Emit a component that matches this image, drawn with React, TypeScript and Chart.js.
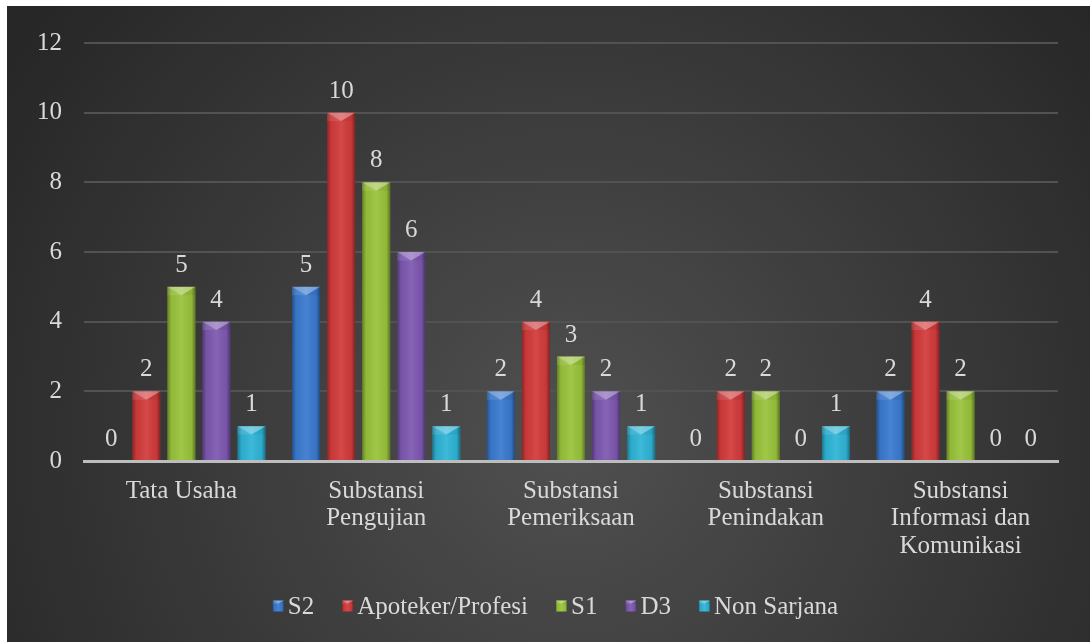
import React, { useEffect, useRef } from "react";
import { Chart, registerables } from "chart.js";

Chart.register(...registerables);

const categories: string[][] = [
  ["Tata Usaha"],
  ["Substansi", "Pengujian"],
  ["Substansi", "Pemeriksaan"],
  ["Substansi", "Penindakan"],
  ["Substansi", "Informasi dan", "Komunikasi"],
];
const seriesNames = ["S2", "Apoteker/Profesi", "S1", "D3", "Non Sarjana"];
const s2Values = [0, 5, 2, 0, 2];
const apotekerValues = [2, 10, 4, 2, 4];
const s1Values = [5, 8, 3, 2, 2];
const d3Values = [4, 6, 2, 0, 0];
const nonSarjanaValues = [1, 1, 1, 1, 0];
const seriesColors = ["#3a7acf", "#d23b3b", "#99c33b", "#7d58b0", "#2fb4d6"];
const yMin = 0;
const yMax = 12;
const yStep = 2;

const FONT = "'Liberation Serif', 'Times New Roman', serif";
const FONT_SIZE = 25;
const TEXT = "#d9d9d9";

function drawBevelBox(ctx: CanvasRenderingContext2D, l: number, top: number, r: number, bottom: number, color: string) {
  const w = r - l;
  const h = bottom - top;
  if (h <= 0.5 || w <= 0) return;
  ctx.save();
  ctx.fillStyle = color;
  ctx.fillRect(l, top, w, h);
  const g = ctx.createLinearGradient(l, 0, r, 0);
  g.addColorStop(0, "rgba(0,0,0,0.35)");
  g.addColorStop(0.14, "rgba(0,0,0,0.05)");
  g.addColorStop(0.5, "rgba(255,255,255,0.07)");
  g.addColorStop(0.86, "rgba(0,0,0,0.05)");
  g.addColorStop(1, "rgba(0,0,0,0.4)");
  ctx.fillStyle = g;
  ctx.fillRect(l, top, w, h);
  const depth = Math.min(w * 0.3, h * 0.5);
  ctx.beginPath();
  ctx.moveTo(l, top);
  ctx.lineTo(r, top);
  ctx.lineTo(l + w / 2, top + depth);
  ctx.closePath();
  ctx.fillStyle = "rgba(255,255,255,0.32)";
  ctx.fill();
  ctx.beginPath();
  ctx.moveTo(l, top);
  ctx.lineTo(l + w / 2, top + depth);
  ctx.lineTo(l, top + depth);
  ctx.closePath();
  ctx.fillStyle = "rgba(255,255,255,0.1)";
  ctx.fill();
  ctx.beginPath();
  ctx.moveTo(r, top);
  ctx.lineTo(l + w / 2, top + depth);
  ctx.lineTo(r, top + depth);
  ctx.closePath();
  ctx.fillStyle = "rgba(0,0,0,0.05)";
  ctx.fill();
  ctx.restore();
}

const backgroundPlugin = {
  id: "bgGradient",
  beforeDraw(chart: any) {
    const { ctx, width, height } = chart;
    ctx.save();
    const g = ctx.createRadialGradient(width * 0.52, height * 0.68, 0, width * 0.52, height * 0.68, width * 0.62);
    g.addColorStop(0, "#505050");
    g.addColorStop(1, "#272727");
    ctx.fillStyle = g;
    ctx.fillRect(0, 0, width, height);
    ctx.restore();
  },
};

const barStylePlugin = {
  id: "barStyle",
  afterDatasetsDraw(chart: any) {
    const ctx = chart.ctx;
    chart.data.datasets.forEach((ds: any, i: number) => {
      const meta = chart.getDatasetMeta(i);
      meta.data.forEach((el: any, j: number) => {
        const p = el.getProps(["x", "y", "base", "width"], true);
        const l = p.x - p.width / 2;
        const r = p.x + p.width / 2;
        drawBevelBox(ctx, l, Math.min(p.y, p.base), r, Math.max(p.y, p.base), seriesColors[i]);
        const v = ds.data[j];
        ctx.save();
        ctx.font = `${FONT_SIZE}px ${FONT}`;
        ctx.fillStyle = TEXT;
        ctx.textAlign = "center";
        ctx.textBaseline = "alphabetic";
        ctx.fillText(String(v), p.x, Math.min(p.y, p.base) - 15);
        ctx.restore();
      });
    });
  },
};

const legendPlugin = {
  id: "customLegend",
  afterDraw(chart: any) {
    const ctx = chart.ctx;
    ctx.save();
    ctx.font = `${FONT_SIZE}px ${FONT}`;
    const box = 11;
    const gapText = 4;
    const gapItem = 28;
    const widths = seriesNames.map((n) => box + gapText + ctx.measureText(n).width);
    const total = widths.reduce((a, b) => a + b, 0) + gapItem * (seriesNames.length - 1);
    let x = chart.width / 2 + 7 - total / 2;
    const cy = 600;
    seriesNames.forEach((n, i) => {
      drawBevelBox(ctx, x, cy - box / 2, x + box, cy + box / 2, seriesColors[i]);
      ctx.fillStyle = TEXT;
      ctx.textAlign = "left";
      ctx.textBaseline = "middle";
      ctx.fillText(n, x + box + gapText, cy + 1);
      x += widths[i] + gapItem;
    });
    ctx.restore();
  },
};

export default function App() {
  const ref = useRef<HTMLCanvasElement | null>(null);
  useEffect(() => {
    if (!ref.current) return;
    const allValues = [s2Values, apotekerValues, s1Values, d3Values, nonSarjanaValues];
    const chart = new Chart(ref.current, {
      type: "bar",
      data: {
        labels: categories as any,
        datasets: seriesNames.map((name, i) => ({
          label: name,
          data: allValues[i],
          backgroundColor: "rgba(0,0,0,0)",
          borderWidth: 0,
          categoryPercentage: 0.9,
          barPercentage: 0.8,
        })),
      },
      options: {
        responsive: false,
        animation: false,
        layout: { padding: { top: 36, right: 32, bottom: 84, left: 0 } },
        plugins: {
          legend: { display: false },
          tooltip: { enabled: false },
          title: { display: false },
        },
        scales: {
          x: {
            grid: { display: false, drawTicks: false },
            border: { display: true, color: "#bdbdbd", width: 3 },
            ticks: {
              color: TEXT,
              font: { family: FONT, size: FONT_SIZE, lineHeight: 1.09 },
              padding: 17,
              maxRotation: 0,
              autoSkip: false,
            },
            afterFit: (scale: any) => {
              scale.height = 97;
            },
          },
          y: {
            min: yMin,
            max: yMax,
            grid: { color: "#525252", lineWidth: 2, drawTicks: false },
            border: { display: false },
            ticks: {
              stepSize: yStep,
              color: TEXT,
              font: { family: FONT, size: FONT_SIZE },
              padding: 22,
            },
            afterFit: (scale: any) => {
              scale.width = 77;
            },
          },
        },
      },
      plugins: [backgroundPlugin, barStylePlugin, legendPlugin],
    });
    return () => chart.destroy();
  }, []);
  return (
    <div style={{ position: "absolute", left: 7, top: 6, width: 1083, height: 636 }}>
      <canvas ref={ref} width={1083} height={636} style={{ display: "block" }} />
    </div>
  );
}
